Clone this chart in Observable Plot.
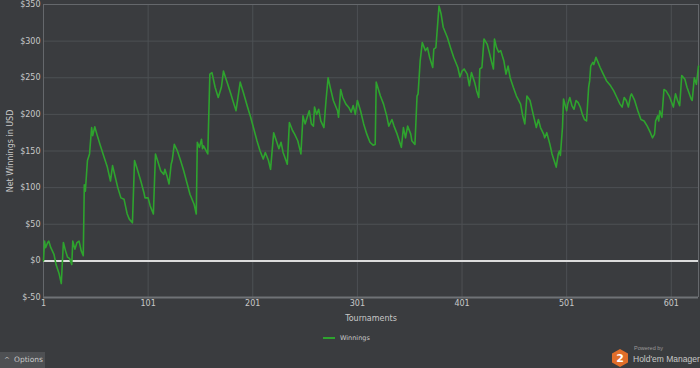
<!DOCTYPE html>
<html>
<head>
<meta charset="utf-8">
<script src="https://cdn.jsdelivr.net/npm/d3@7"></script>
<script src="https://cdn.jsdelivr.net/npm/@observablehq/plot@0.6"></script>
<style>
  html, body { margin: 0; padding: 0; background: #3a3c3f; overflow: hidden; }
  #wrap { position: relative; width: 700px; height: 368px; background: #3a3c3f; font-family: "DejaVu Sans", sans-serif; }
  #chart { position: absolute; left: 0; top: 0; }
  .legend { position: absolute; left: 323px; top: 334px; display: flex; align-items: center; font-size: 6.5px; color: #c8c8c8; }
  .legend .sw { width: 12px; height: 2px; background: #2ea32e; margin-right: 5px; }
  .options { position: absolute; left: 0; top: 352px; width: 45px; height: 16px; background: #4e5053; color: #c8c8c8; font-size: 7.5px; line-height: 16px; }
  .options .car { position: absolute; left: 4px; top: 0; font-size: 7px; }
  .options .lbl { position: absolute; left: 14px; top: 0; }
  .logo { position: absolute; left: 611px; top: 348px; }
  .pw { position: absolute; left: 634px; top: 345px; font-size: 5.5px; color: #9a9a9a; font-family: "Liberation Sans", sans-serif; }
  .hm { position: absolute; left: 633px; top: 354px; font-size: 8.5px; color: #c8c8c8; white-space: nowrap; font-family: "Liberation Sans", sans-serif; }
</style>
</head>
<body>
<div id="wrap">
  <div id="chart"></div>
  <div class="legend"><div class="sw"></div><span>Winnings</span></div>
  <div class="options"><span class="car">^</span><span class="lbl">Options</span></div>
  <svg class="logo" width="18" height="20" viewBox="0 0 18 20">
    <polygon points="9,1 17,5.5 17,14.5 9,19 1,14.5 1,5.5" fill="#e06e2a"/>
    <text x="9" y="14" text-anchor="middle" font-family="DejaVu Sans" font-weight="bold" font-size="11" fill="#ffffff">2</text>
  </svg>
  <div class="pw">Powered by</div>
  <div class="hm">Hold'em Manager</div>
</div>
<script>
const tournaments = [1,2,3,5,6,8,11,13,16,18,20,22,24,26,28,29,31,33,35,37,39,40,41,43,45,47,48,50,52,55,59,62,65,67,69,72,75,78,81,83,86,88,90,94,97,98,101,103,106,108,110,113,116,117,119,121,123,124,126,129,132,135,138,141,145,147,148,150,152,153,154,158,160,162,165,168,171,173,176,180,183,185,189,192,196,199,202,205,208,211,213,216,218,221,224,226,228,230,234,236,239,241,244,247,249,251,253,255,257,259,260,262,264,266,269,271,273,275,278,282,283,285,287,290,293,295,297,299,301,304,307,310,313,316,318,319,323,326,329,331,334,336,339,343,345,347,349,352,353,356,358,359,361,363,366,368,370,373,374,376,379,381,383,387,390,393,397,399,401,403,406,408,410,413,415,417,418,420,422,425,427,429,431,432,434,436,438,441,443,445,447,450,453,457,459,461,463,466,469,472,474,476,479,480,482,485,487,489,491,493,494,495,497,498,500,501,502,504,506,508,510,512,514,516,518,520,522,523,524,526,527,529,531,533,536,539,543,546,549,552,554,556,558,560,562,563,566,569,572,575,578,581,583,585,586,588,589,590,592,594,596,599,603,605,607,609,611,614,616,620,621,623,625,627];
const winnings = [0,27,18,25,27,18,9,-5,-18,-31,25,14,5,3,-5,27,16,25,27,14,7,104,95,137,146,182,171,183,173,159,141,128,109,130,118,100,86,84,64,57,52,137,128,109,93,86,86,75,64,146,137,123,118,125,116,105,132,137,159,150,137,123,107,91,77,64,162,155,166,153,157,146,255,257,237,223,237,259,246,228,214,205,244,230,210,196,180,164,150,139,148,137,125,175,162,153,162,148,132,189,178,173,164,146,198,187,196,205,187,184,210,200,207,191,182,219,250,237,219,205,196,234,223,214,209,203,212,200,219,205,187,173,162,158,159,244,225,214,198,184,193,184,173,155,182,168,184,173,164,159,225,228,273,298,287,291,278,264,289,291,348,337,319,305,291,278,264,251,259,262,255,239,257,244,232,223,262,264,303,296,285,273,262,303,291,285,287,273,255,266,250,237,225,214,198,187,225,219,200,182,193,182,173,168,175,159,146,137,128,146,150,144,182,221,210,205,214,223,212,207,219,216,210,200,193,191,237,246,266,271,268,278,271,264,255,246,239,232,223,214,210,223,219,210,225,228,219,205,193,191,184,175,168,173,191,198,191,205,196,234,232,225,210,228,219,212,253,248,237,221,219,250,241,266];
const xTicks = [1,101,201,301,401,501,601];
const yTicks = [-50,0,50,100,150,200,250,300,350];

const data = tournaments.map((t, i) => ({t, v: winnings[i]}));

const chart = Plot.plot({
  width: 700,
  height: 368,
  marginLeft: 43,
  marginRight: 2,
  marginTop: 4,
  marginBottom: 71,
  style: {background: "transparent", color: "#c8c8c8", fontFamily: "DejaVu Sans, sans-serif", fontSize: "8px"},
  x: {domain: [1, 627]},
  y: {domain: [-50, 350]},
  marks: [
    Plot.ruleY(yTicks, {stroke: "#4d5054", strokeWidth: 1}),
    Plot.ruleX(xTicks, {stroke: "#4d5054", strokeWidth: 1}),
    Plot.ruleY([-50], {stroke: "#6f7276", strokeWidth: 2}),
    Plot.ruleX([1], {stroke: "#65686c", strokeWidth: 1}),
    Plot.ruleX([627], {stroke: "#65686c", strokeWidth: 1}),
    Plot.ruleY([350], {stroke: "#65686c", strokeWidth: 1}),
    Plot.ruleY([0], {stroke: "#dcdcdc", strokeWidth: 2}),
    Plot.axisY({ticks: yTicks, tickFormat: d => "$" + d, tickSize: 0, tickPadding: 3,
      label: "Net Winnings in USD", labelAnchor: "center", labelArrow: "none", labelOffset: 36}),
    Plot.axisX({ticks: xTicks, tickFormat: d => String(d), tickSize: 0, tickPadding: 3,
      label: "Tournaments", labelAnchor: "center", labelArrow: "none", labelOffset: 23}),
    Plot.line(data, {x: "t", y: "v", stroke: "#2ea32e", strokeWidth: 1.6})
  ]
});
document.getElementById("chart").appendChild(chart);
</script>
</body>
</html>
